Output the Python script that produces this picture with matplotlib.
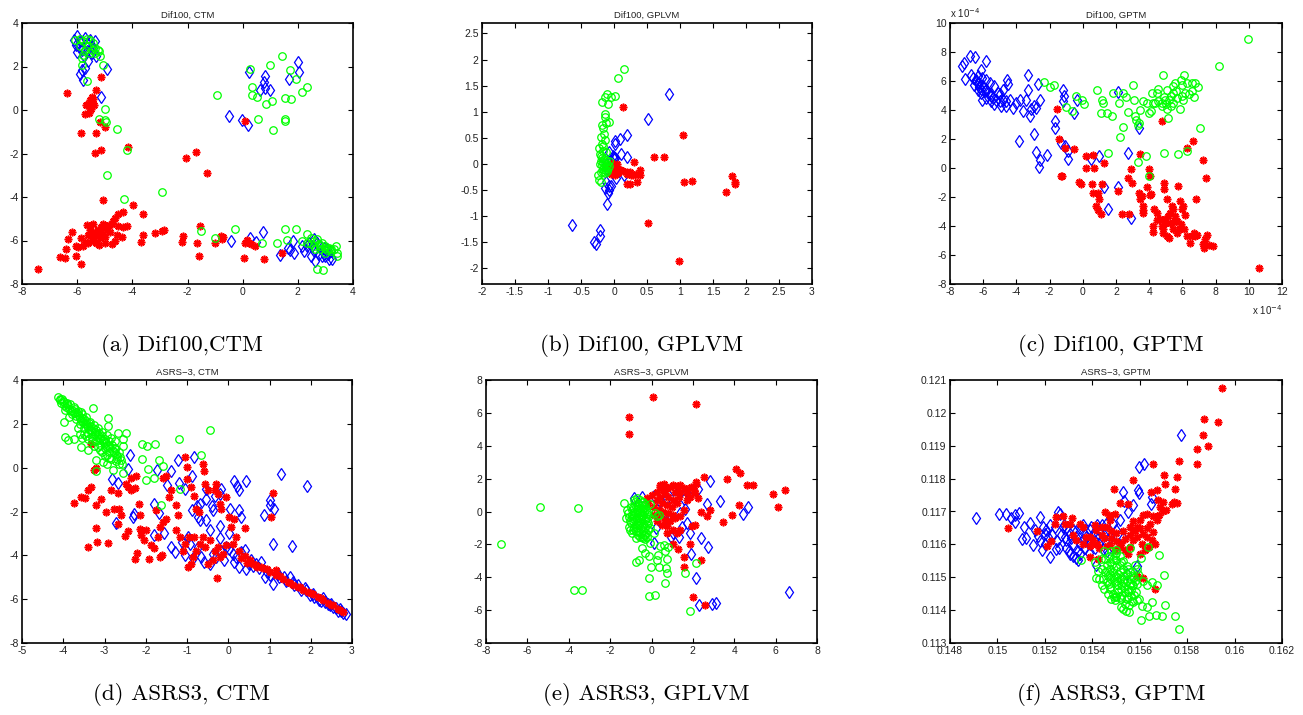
import numpy as np
import matplotlib
matplotlib.use("Agg")
import matplotlib.pyplot as plt
from matplotlib.ticker import FuncFormatter

plt.rcParams['axes.unicode_minus'] = False
plt.rcParams['font.family'] = ['Liberation Sans', 'DejaVu Sans']

# ---------------- data ----------------
# Panel (a) Dif100, CTM
a_red = [(-6.36,0.78),(-5.30,0.93),(-5.12,1.51),(-5.48,0.60),(-5.54,0.45),(-5.62,0.28),(-5.68,0.22),(-5.55,0.10),
         (-5.70,-0.20),(-5.58,-0.14),(-5.42,0.50),(-5.40,0.25),(-5.50,0.05),(-5.87,-1.06),(-5.30,-1.06),(-5.18,-0.57),
         (-5.00,-0.78),(-5.36,-1.97),(-5.12,-1.82),(-4.15,-1.71),(-2.05,-2.20),(-1.70,-1.94),(-1.30,-2.89),(0.10,-0.50),
         (-5.05,-4.14),(-3.99,-4.37),(-3.62,-4.76),(-4.35,-4.68),(-4.52,-4.80),(-4.63,-4.98),(-4.70,-5.10),(-4.75,-5.26),
         (-7.42,-7.32),(-6.63,-6.75),(-6.45,-6.80),(-6.39,-6.40),(-6.33,-5.95),(-6.17,-5.60),(-6.05,-6.25),(-5.96,-6.30),
         (-6.05,-6.70),(-5.87,-7.10),(-5.87,-5.90),(-5.78,-6.25),(-5.72,-6.05),(-5.66,-5.30),(-5.60,-5.75),(-5.54,-5.50),
         (-5.48,-5.90),(-5.42,-5.25),(-5.36,-5.60),(-5.30,-5.80),(-5.24,-5.50),(-5.18,-5.90),(-5.12,-5.60),(-5.05,-5.70),
         (-4.99,-5.85),(-4.93,-5.50),(-5.30,-6.10),(-5.20,-6.20),(-4.99,-6.10),(-4.81,-5.60),(-4.75,-6.15),(-4.57,-5.75),
         (-4.51,-5.35),(-4.39,-5.85),(-4.21,-5.35),(-4.33,-5.40),(-3.62,-5.75),(-3.67,-6.08),(-4.63,-6.00),(-4.85,-5.30),
         (-5.05,-5.25),(-5.60,-6.10),(-5.42,-6.00),(-5.45,-5.70),(-5.25,-5.65),(-5.15,-5.40),(-3.18,-5.64),(-2.93,-5.55),
         (-2.87,-5.50),(-2.21,-6.07),(-2.17,-5.80),(-1.66,-6.12),(-1.54,-5.32),(-1.60,-6.70),(-1.02,-6.10),(-0.80,-5.80),
         (-0.72,-5.85),(-0.76,-5.92),(0.16,-5.98),(0.10,-6.10),(0.22,-6.10),(0.30,-6.18),(0.46,-6.25),(0.05,-6.80),
         (0.76,-6.85),(1.41,-6.56)]
a_blue = [(-6.00,3.41),(-6.12,3.23),(-6.05,3.00),(-5.90,3.15),(-5.72,3.30),(-5.64,3.07),(-5.54,3.23),(-5.48,2.92),
          (-5.36,3.15),(-5.84,2.77),(-6.00,2.65),(-5.66,2.70),(-5.60,2.23),(-5.72,1.93),(-5.84,1.82),(-5.90,1.67),
          (-5.80,1.36),(-4.91,1.88),(-5.48,2.60),(-5.30,2.46),(-5.42,2.85),(-5.95,2.90),(-5.75,2.50),(-5.12,0.58),
          (0.22,1.77),(0.82,1.58),(0.79,1.31),(0.82,1.00),(0.64,0.93),(0.98,0.90),(2.00,2.22),(2.06,1.73),(1.67,1.44),
          (-0.51,-0.29),(-0.02,-0.47),(0.18,-0.70),(-0.41,-6.02),(0.28,-5.87),(0.73,-5.61),(0.50,-6.06),(1.35,-6.65),
          (1.64,-6.33),(1.83,-6.02),(1.85,-6.56),(1.72,-6.45),(2.16,-6.25),(2.22,-6.48),(2.46,-6.71),(2.64,-6.94),
          (2.76,-6.64),(2.88,-6.72),(3.00,-6.70),(3.13,-6.87),(3.25,-6.83),(2.58,-5.95),(2.70,-6.10),(2.82,-6.25),
          (2.94,-6.33),(3.07,-6.40),(3.19,-6.48),(2.52,-6.25),(2.40,-6.10),(2.32,-6.25),(2.60,-6.50),(2.90,-6.55),
          (3.10,-6.60)]
a_green = [(-6.08,3.23),(-5.90,3.26),(-5.78,3.15),(-5.64,3.26),(-5.54,3.20),(-5.42,3.07),(-5.90,2.92),(-5.72,2.77),
           (-5.60,2.92),(-5.48,2.77),(-5.36,2.84),(-5.24,2.77),(-5.20,2.69),(-5.18,2.46),(-5.84,2.08),(-5.66,1.35),
           (-5.05,2.08),(-5.78,2.54),(-5.54,2.61),(-5.36,2.61),(-5.84,2.39),(-4.99,0.05),(-5.20,-0.41),(-4.99,-0.47),
           (-4.96,-0.57),(-4.57,-0.89),(-4.21,-1.85),(-4.93,-3.01),(-4.29,-4.11),(-2.93,-3.78),(-0.92,0.69),(0.25,1.88),
           (0.34,1.06),(0.34,0.70),(0.52,0.58),(0.56,-0.40),(0.86,0.28),(0.98,2.08),(1.07,0.43),(1.10,-0.90),(1.43,2.49),
           (1.52,0.55),(1.55,-0.40),(1.55,-0.52),(1.73,1.85),(1.76,0.50),(1.92,1.44),(2.16,0.81),(2.32,1.04),
           (-1.50,-5.58),(-1.02,-5.87),(-0.27,-5.49),(0.70,-6.13),(1.25,-6.13),(1.55,-5.49),(1.61,-5.98),(1.92,-5.49),
           (2.34,-5.72),(2.16,-6.02),(2.46,-5.87),(2.58,-6.02),(2.70,-5.95),(2.76,-6.18),(2.88,-6.10),(3.00,-6.25),
           (3.13,-6.33),(3.19,-6.40),(3.31,-6.38),(3.43,-6.56),(3.43,-6.71),(3.37,-6.25),(2.70,-7.29),(2.92,-7.35),
           (2.64,-6.40),(2.82,-6.40),(3.00,-6.56),(2.58,-6.25),(2.46,-6.18),(2.34,-6.10),(2.82,-6.25),(3.00,-6.33),
           (3.13,-6.40),(3.05,-6.45),(3.20,-6.50)]

# Panel (b) Dif100, GPLVM
b_red = [(0.14,1.10),(1.05,0.55),(0.61,0.13),(0.75,0.14),(0.30,0.04),(0.40,-0.11),(0.40,-0.21),(0.35,-0.35),
         (0.19,-0.39),(0.24,-0.39),(0.51,-1.13),(0.99,-1.86),(1.06,-0.35),(1.18,-0.32),(1.69,-0.53),(1.79,-0.24),
         (1.84,-0.34),(1.84,-0.38),(-0.02,-0.04),(0.04,-0.09),(0.09,-0.12),(0.14,-0.14),(0.19,-0.15),(0.24,-0.16),
         (0.29,-0.21),(0.34,-0.19),(0.01,-0.02),(-0.04,-0.08),(0.06,-0.18),(0.11,-0.11),(0.00,-0.15),(-0.05,-0.20),
         (0.02,-0.22),(0.25,-0.22),(0.20,-0.20),(0.05,0.00),(-0.03,0.02)]
b_blue = [(0.83,1.34),(0.52,0.86),(0.19,0.55),(0.09,0.47),(0.01,0.44),(0.01,0.39),(0.10,0.20),(0.19,0.14),
          (-0.08,0.23),(-0.01,0.15),(0.00,0.10),(-0.04,0.05),(-0.12,0.00),(-0.10,-0.10),(0.03,-0.27),(0.15,-0.21),
          (-0.12,-0.34),(-0.13,-0.46),(-0.07,-0.43),(-0.09,-0.56),(-0.10,-0.77),(-0.64,-1.17),(-0.21,-1.27),
          (-0.21,-1.38),(-0.31,-1.49),(-0.28,-1.53),(-0.04,-0.42),(-0.08,-0.50),(0.00,0.13),(0.02,0.12)]
b_green = [(0.15,1.82),(0.06,1.64),(-0.10,1.34),(-0.13,1.28),(-0.04,1.29),(0.02,1.31),(-0.18,1.19),(-0.09,1.14),
           (-0.14,0.95),(-0.13,0.89),(-0.07,0.80),(-0.18,0.75),(-0.16,0.68),(-0.12,0.79),(-0.15,0.58),(-0.19,0.51),
           (-0.14,0.46),(-0.18,0.38),(-0.22,0.30),(-0.21,0.20),(-0.12,0.23),(-0.24,-0.21),(-0.22,-0.30),(-0.19,-0.34),
           (-0.20,0.15),(-0.18,0.12),(-0.15,0.10),(-0.12,0.08),(-0.19,0.05),(-0.16,0.03),(-0.13,0.02),(-0.10,0.00),
           (-0.18,-0.02),(-0.15,-0.05),(-0.12,-0.06),(-0.09,-0.08),(-0.17,-0.10),(-0.14,-0.12),(-0.11,-0.14),
           (-0.16,-0.16),(-0.13,-0.18),(-0.20,-0.15),(-0.07,0.05),(-0.08,-0.03),(-0.21,0.00),(-0.17,0.25),(-0.16,0.34)]

# Panel (c) Dif100, GPTM  (values in units of 1e-4)
c_red = [(-1.53,4.08),(-1.45,1.97),(-1.33,-0.55),(-1.05,1.40),(-0.54,1.28),(-0.20,-0.96),(-0.08,-1.12),(0.22,0.83),
         (0.22,0.02),(0.68,0.02),(0.62,0.89),(1.27,0.37),(0.56,-1.12),(0.62,-1.74),(0.89,-1.70),(0.97,-2.16),
         (0.79,-2.61),(0.89,-2.91),(1.09,-3.19),(1.17,-1.08),(2.36,-3.19),(2.15,-1.58),(2.74,-0.67),(2.90,-0.05),
         (2.98,-1.01),(2.78,-3.19),(3.44,0.94),(3.36,-1.74),(3.44,-2.16),(3.58,-1.93),(3.65,-2.61),(3.61,-2.91),
         (3.65,-3.07),(3.85,-1.28),(3.97,-0.09),(4.05,-0.55),(4.09,-1.77),(4.75,3.23),(4.89,-1.06),(4.89,-1.47),
         (4.05,-1.88),(4.31,-2.84),(4.25,-3.99),(4.21,-4.40),(4.45,-3.62),(4.49,-3.07),(4.65,-3.53),(4.75,-3.99),
         (4.85,-4.45),(4.89,-3.88),(4.95,-3.53),(5.06,-2.11),(5.16,-3.30),(5.26,-3.07),(5.36,-2.61),(5.46,-2.84),
         (5.56,-3.30),(5.06,-4.68),(5.18,-4.82),(5.46,-4.22),(5.50,-3.71),(5.66,-3.65),(5.76,-1.24),(5.86,-2.27),
         (5.96,-2.84),(6.06,-2.61),(6.18,-3.26),(6.10,-4.22),(6.26,-4.72),(6.46,-5.14),(6.57,-4.72),(6.67,-4.45),
         (6.77,-4.68),(6.87,-4.59),(6.81,-2.16),(6.63,1.86),(6.30,1.35),(7.27,0.53),(7.43,-0.71),(7.23,-5.25),
         (7.31,-5.55),(7.39,-4.91),(7.51,-4.59),(7.63,-5.30),(7.87,-5.41),(10.63,-6.93),(5.66,-4.45),(5.82,-4.22),
         (5.26,-3.76),(5.92,-3.88),(4.85,-4.22),(-1.25,-0.55)]
c_blue = [(-7.29,7.02),(-7.13,7.25),(-6.77,7.71),(-6.47,7.66),(-7.07,6.17),(-5.86,7.36),(-6.12,6.79),(-6.43,6.10),
          (-6.23,5.87),(-6.03,5.64),(-5.82,5.41),(-5.62,5.07),(-5.42,4.84),(-5.22,4.72),(-5.01,4.61),(-4.91,4.27),
          (-4.61,4.31),(-4.41,4.72),(-4.57,6.10),(-4.51,5.76),(-4.81,5.41),(-4.21,4.15),(-4.01,4.50),(-3.81,4.72),
          (-3.61,3.92),(-3.30,6.44),(-3.30,5.41),(-3.40,4.72),(-3.14,4.04),(-3.16,3.58),(-2.96,4.27),(-2.80,4.15),
          (-2.68,5.80),(-2.56,4.72),(-3.85,1.86),(-2.96,2.32),(-2.80,1.12),(-2.16,0.89),(-2.56,0.53),(-2.64,0.07),
          (-1.21,5.41),(-1.13,5.00),(-1.19,4.61),(-1.65,3.23),(-1.69,2.78),(-1.31,1.70),(-1.09,1.51),(-0.89,1.17),
          (-0.89,0.60),(-0.52,3.76),(-0.34,4.72),(0.48,0.60),(0.97,0.83),(1.27,-1.28),(1.49,-2.84),(2.15,-1.31),
          (2.13,5.23),(2.74,1.01),(2.88,-3.46),(3.40,2.78),(-6.73,6.44),(-6.63,6.21),(-6.43,5.98),(-6.33,5.87),
          (-6.23,5.60),(-6.12,5.46),(-5.92,5.30),(-5.72,5.14),(-5.52,4.95),(-6.53,5.75),(-6.33,5.41),(-6.12,5.18),
          (-5.82,4.84),(-5.52,4.61),(-5.32,4.38),(-5.12,5.18),(-5.32,5.64),(-5.62,5.87),(-5.86,6.10),(-6.06,6.21),
          (-6.33,6.37),(-5.01,5.07),(-4.81,4.72),(-4.61,4.61),(-6.06,4.72)]
c_green = [(9.95,8.92),(8.18,7.06),(-2.34,5.92),(-1.99,5.60),(-1.73,5.69),(-0.99,4.22),(-0.64,3.92),(-0.38,4.95),
           (-0.04,4.68),(0.08,4.43),(0.87,5.37),(1.17,4.72),(1.19,4.45),(1.09,3.81),(1.43,3.76),(1.77,3.58),
           (1.79,5.18),(2.18,4.45),(2.44,5.18),(2.60,4.89),(3.00,5.71),(3.08,4.72),(3.14,3.58),(3.18,3.30),
           (3.36,3.12),(3.34,2.94),(2.44,2.84),(2.24,2.16),(2.74,3.85),(3.44,3.99),(3.65,4.61),(3.85,4.45),
           (4.00,3.81),(4.09,3.92),(4.15,5.14),(4.45,5.18),(4.55,5.46),(4.25,4.45),(4.85,6.44),(4.95,4.72),
           (5.10,4.04),(5.20,4.72),(5.16,3.42),(5.42,5.18),(5.46,5.64),(5.66,4.84),(5.90,6.10),(6.10,6.38),
           (5.96,5.69),(5.86,4.04),(6.16,5.18),(6.26,5.87),(6.57,5.87),(6.77,5.87),(6.91,5.60),(6.71,4.91),
           (7.07,2.78),(5.30,4.95),(4.55,4.61),(4.35,4.50),(4.75,4.27),(5.46,4.50),(6.06,4.72),(5.06,5.37),
           (5.56,5.87),(1.53,1.01),(3.34,0.41),(3.79,0.83),(4.01,-0.55),(4.91,1.05),(5.76,0.94),(6.30,1.15),
           (4.75,4.45),(5.00,4.38),(5.30,4.31),(5.60,5.30),(6.40,5.10),(6.55,5.30),(6.00,5.00),(4.90,4.90)]

# Panel (d) ASRS-3, CTM
d_red = [(-3.75,-1.62),(-3.56,-1.35),(-3.48,-1.38),(-3.40,-1.01),(-3.32,-0.89),(-3.20,0.00),(-3.25,-0.12),(-3.32,1.09),
         (-3.40,-3.62),(-3.18,-3.40),(-3.20,-2.74),(-3.20,-1.72),(-3.08,-1.42),(-2.92,-3.43),(-2.96,-2.03),(-2.84,-1.01),
         (-2.67,-1.16),(-2.76,-1.88),(-2.64,-1.88),(-2.59,-2.18),(-2.67,-2.56),(-2.51,-3.14),(-2.43,-2.89),(-2.49,-0.74),
         (-2.43,-0.89),(-2.35,-1.04),(-2.35,-0.46),(-2.23,-0.40),(-2.25,-0.95),(-2.17,-1.68),(-2.15,-2.18),(-2.15,-2.79),
         (-2.27,-4.16),(-2.21,-3.90),(-2.11,-3.09),(-2.05,-3.32),(-2.00,-2.86),(-1.91,-4.16),(-1.87,-3.55),(-1.81,-3.65),
         (-1.70,-3.17),(-1.66,-4.08),(-1.60,-4.00),(-1.75,-1.95),(-1.65,-2.71),(-1.58,-2.48),(-1.50,-2.33),(-1.44,-1.34),
         (-1.38,-1.04),(-1.50,-0.36),(-1.58,-0.46),(-1.26,-1.72),(-1.22,-2.18),(-1.26,-2.86),(-1.16,-3.17),(-1.10,-3.78),
         (-1.06,0.48),(-0.99,0.02),(-1.01,-0.51),(-0.90,-0.89),(-0.82,-1.27),(-0.78,-1.88),(-0.70,-2.03),(-0.61,0.17),
         (-0.59,-0.13),(-0.57,-0.74),(-0.49,-1.04),(-0.29,-0.74),(-0.33,-1.04),(-0.25,-1.22),(-0.21,-1.65),(-0.17,-1.88),
         (-0.05,-1.35),(0.03,-2.26),(0.15,-2.33),(0.07,-2.71),(0.40,-2.74),(0.19,-3.17),(-0.98,-4.54),(-0.90,-4.38),
         (-0.86,-4.08),(-0.78,-3.78),(-0.69,-3.47),(-0.57,-3.62),(-0.45,-3.32),(-0.33,-3.78),(-0.25,-3.62),(-0.21,-4.08),
         (-0.13,-3.93),(-0.27,-5.02),(-0.61,-3.17),(-0.82,-3.17),(-0.94,-3.17),(-1.06,-3.47),(-0.49,-4.38),(-0.37,-4.23),
         (-0.05,-3.55),(0.11,-3.47),(0.27,-3.78),(0.40,-4.01),(0.52,-4.23),(0.68,-4.46),(0.80,-4.54),(0.93,-4.61),
         (1.08,-1.14),(1.04,-2.23),(1.16,-4.69),(1.16,-4.92),(1.33,-5.07),(1.45,-5.22),(1.57,-5.37),(1.69,-5.46),
         (1.81,-5.57),(1.93,-5.68),(2.06,-5.78),(2.17,-5.90),(2.30,-6.05),(2.42,-6.18),(2.54,-6.28),(2.66,-6.43),
         (2.78,-6.59),(0.60,-4.38),(0.30,-4.10),(1.00,-4.75),(1.25,-4.95),(1.50,-5.25),(1.75,-5.45),(2.00,-5.70),
         (2.25,-5.95),(2.50,-6.25),(2.70,-6.50),(0.70,-4.55),(0.85,-4.60),(0.45,-4.35)]
d_blue = [(-2.37,0.60),(-2.43,-0.05),(-2.81,-0.51),(-2.67,-0.71),(-2.73,-2.53),(-2.28,-2.10),(-2.31,-2.26),(-1.81,-1.68),
          (-1.68,-2.08),(-1.73,-0.10),(-1.38,-0.13),(-1.48,-0.79),(-1.21,0.36),(-0.82,0.48),(-0.87,-0.40),(-1.20,-0.71),
          (-1.06,-0.96),(-0.88,-1.92),(-0.75,-1.77),(-0.69,-1.65),(-0.53,-0.96),(-0.40,-1.77),(-0.37,-1.95),(-0.33,-1.27),
          (-0.53,-1.42),(-0.21,-1.22),(-0.17,-0.96),(-0.69,-2.41),(-0.73,-2.26),(-0.53,-2.38),(-0.44,-2.84),(-0.21,-2.68),
          (-0.21,-3.21),(0.03,-2.98),(0.05,-1.88),(0.15,-0.59),(0.21,-0.84),(0.27,-1.04),(0.44,-0.59),(0.26,-1.95),
          (0.31,-2.23),(1.28,-0.31),(1.92,-0.82),(0.86,-2.18),(1.02,-1.47),(1.00,-1.72),(1.12,-1.88),(1.08,-3.47),
          (1.54,-3.59),(-1.79,-3.06),(-1.56,-2.98),(-1.38,-3.62),(-1.30,-3.85),(-1.12,-3.40),(-1.06,-4.00),(-0.98,-3.17),
          (-0.92,-3.50),(-0.73,-3.62),(-0.65,-4.08),(-0.45,-4.38),(-0.37,-3.93),(-0.29,-4.08),(-0.17,-3.78),(-0.05,-3.62),
          (0.03,-3.70),(0.11,-3.93),(0.19,-4.08),(0.31,-3.85),(0.40,-3.77),(0.27,-4.54),(0.44,-4.61),(0.56,-4.23),
          (0.68,-4.38),(0.80,-4.31),(0.88,-4.99),(1.00,-4.92),(1.08,-5.30),(1.24,-4.99),(1.41,-5.15),(1.49,-4.99),
          (1.57,-5.22),(1.69,-5.37),(1.77,-5.60),(1.89,-5.60),(1.97,-5.83),(2.09,-5.90),(2.21,-6.02),(2.34,-6.13),
          (2.46,-6.28),(2.54,-6.36),(2.66,-6.52),(2.78,-6.64),(2.86,-6.69),(2.74,-6.52),(2.62,-6.40),(2.42,-6.20),
          (2.25,-6.08),(-0.85,-4.10),(-0.60,-4.30),(1.20,-4.85),(1.35,-5.00),(1.60,-5.35),(1.85,-5.50),(2.05,-5.75),
          (2.30,-5.95),(2.50,-6.20),(2.70,-6.45),(0.60,-4.50),(0.75,-4.60),(0.95,-4.75),(0.15,-4.30),(-0.10,-4.20),
          (0.50,-4.40)]
d_green = [(-4.13,3.22),(-4.09,3.14),(-4.05,2.94),(-3.97,2.86),(-3.93,2.79),(-3.85,2.68),(-3.81,2.57),(-3.73,2.48),
           (-3.68,2.38),(-3.60,2.27),(-3.56,2.18),(-3.52,2.08),(-3.44,1.97),(-3.40,1.85),(-3.32,1.73),(-3.24,1.62),
           (-3.15,1.47),(-3.12,1.36),(-3.04,1.24),(-2.97,1.12),(-2.88,0.97),(-2.80,0.78),(-2.72,0.63),(-2.63,0.48),
           (-2.57,0.18),(-4.00,3.05),(-3.90,2.95),(-3.75,2.75),(-3.65,2.60),(-3.55,2.45),(-3.45,2.30),(-3.35,2.10),
           (-3.25,1.95),(-3.15,1.80),(-3.05,1.65),(-2.95,1.50),(-2.85,1.35),(-2.75,1.20),(-3.95,2.65),(-3.80,2.45),
           (-3.70,2.20),(-3.60,2.00),(-3.50,1.80),(-3.40,1.60),(-3.30,1.40),(-3.20,1.20),(-3.10,1.05),(-3.00,0.90),
           (-2.90,0.70),(-3.60,1.55),(-3.40,1.30),(-3.25,1.00),(-3.10,0.80),(-3.00,0.55),(-2.90,0.45),(-2.70,0.40),
           (-2.60,0.35),(-3.28,2.73),(-2.92,2.27),(-2.92,1.88),(-3.97,2.08),(-3.89,1.27),(-2.47,1.57),(-2.67,1.57),
           (-2.54,1.31),(-2.08,1.06),(-1.97,1.01),(-1.78,1.06),(-1.20,1.31),(-0.44,1.72),(-0.65,0.58),(-2.08,0.40),
           (-1.68,0.36),(-1.58,0.07),(-1.95,-0.08),(-1.99,-0.55),(-1.81,-0.48),(-2.55,-0.25),(-3.20,-0.13),(-2.80,-0.10),
           (-1.62,-1.70),(-1.18,-0.96),(-3.56,0.94),(-3.40,0.80),(-3.20,0.35),(-3.04,0.25),(-2.95,0.18),(-2.84,0.40),
           (-2.72,0.32),(-2.64,0.18),(-3.75,1.30),(-3.55,1.35),(-3.95,1.40),(-2.55,1.00),(-2.75,0.85),
           (-4.08,3.08),(-4.02,3.12),(-3.98,3.00),(-3.92,2.90),(-3.88,2.82),(-3.84,2.90),(-3.78,2.62),(-3.72,2.68),
           (-3.70,2.52),(-3.64,2.44),(-3.62,2.35),(-3.58,2.52),(-3.54,2.28),(-3.50,2.20),(-3.48,2.02),(-3.46,2.12),
           (-3.42,1.90),(-3.38,2.02),(-3.36,1.75),(-3.34,1.92),(-3.30,1.68),(-3.28,1.80),(-3.22,1.55),(-3.20,1.70),
           (-3.18,1.42),(-3.14,1.58),(-3.10,1.30),(-3.06,1.45),(-3.02,1.15),(-2.98,1.30),(-2.94,1.02),(-2.90,1.20),
           (-2.86,0.90),(-2.82,1.05),(-2.78,0.70),(-2.74,0.88),(-2.70,0.55),(-2.66,0.72),(-3.50,1.55),(-3.30,1.20),
           (-3.15,0.95),(-3.05,0.70),(-2.95,0.60),(-3.65,1.80),(-3.85,2.30),(-3.45,1.45)]

# Panel (e) ASRS-3, GPLVM
e_red = [(0.08,6.97),(2.16,6.56),(-1.10,5.76),(-1.10,4.70),(4.10,2.56),(4.29,2.36),(2.55,2.11),(2.16,1.81),(2.16,1.67),
         (3.65,1.95),(4.61,1.59),(4.90,1.59),(6.47,1.30),(5.85,1.04),(6.10,0.25),(4.21,0.38),(3.89,-0.21),(3.45,-0.65),
         (2.84,0.09),(2.68,-0.25),(2.39,-0.05),(2.11,-0.82),(1.98,-0.88),(1.84,-1.99),(1.06,-1.99),(1.26,-2.30),
         (1.58,-2.74),(1.55,-3.39),(2.40,-2.98),(2.03,-5.23),(2.60,-5.67),(2.27,0.80),(0.42,1.50),(0.58,1.30),
         (0.74,1.40),(0.90,1.50),(1.06,1.60),(1.23,1.54),(1.39,1.60),(1.55,1.46),(1.71,1.34),(0.66,1.10),(0.82,0.90),
         (1.06,0.70),(1.31,0.90),(0.42,0.90),(0.26,0.70),(0.50,0.50),(0.74,0.40),(0.98,0.30),(1.23,0.50),(0.10,0.30),
         (0.34,0.10),(0.58,0.00),(0.82,-0.10),(1.06,-0.20),(0.42,-0.30),(0.66,-0.50),(0.90,-0.60),(1.15,-0.40),
         (1.39,-0.30),(1.55,0.10),(1.71,0.70),(1.87,0.90),(0.10,-0.20),(0.26,-0.60),(0.50,-0.80),(0.74,-0.90),
         (1.06,-1.10),(1.39,-1.10),(1.23,-1.32),(-0.15,0.50),(-0.23,0.80),(0.02,1.00),(0.26,1.20),(0.42,1.60),
         (0.61,1.70),(1.71,1.10),(2.06,1.30),(1.90,1.50),(2.10,1.10),(1.39,1.20),(1.15,1.20),(0.77,-1.33)]
e_blue = [(2.81,1.87),(2.23,1.35),(2.00,1.31),(2.68,0.46),(3.29,0.64),(4.65,0.30),(4.42,-0.15),(1.84,1.06),(1.55,0.76),
          (1.60,0.16),(1.39,-0.11),(1.31,-1.53),(1.06,-1.33),(0.94,-1.53),(1.87,-1.33),(1.71,-0.72),(1.47,-0.92),
          (0.77,-0.62),(0.74,-0.42),(0.10,-1.93),(0.23,-1.02),(2.39,-1.59),(2.71,-2.19),(1.90,-2.60),(2.13,-4.02),
          (2.31,-5.67),(2.92,-5.61),(3.13,-5.57),(6.63,-4.89),(-0.87,0.80),(-0.47,0.90),(0.10,0.94),(0.42,0.60),
          (0.74,0.80),(1.06,1.31),(1.39,1.31)]
e_green = [(-7.29,-1.99),(-5.39,0.25),(-3.56,0.19),(-3.73,-4.76),(-3.34,-4.78),(-1.32,0.50),(-1.19,0.09),(-1.23,-0.41),
           (-1.11,-0.92),(-1.03,-1.12),(-0.92,-1.33),(-0.74,-1.63),(-0.47,-1.53),(-0.31,-1.67),(-0.06,-1.93),
           (0.10,-1.33),(-0.06,-0.99),(-0.15,-0.72),(-0.47,-2.25),(-0.31,-2.51),(-0.74,-3.09),(-0.60,-2.98),
           (-0.13,-2.68),(0.31,-2.64),(0.26,-2.94),(-0.03,-3.39),(0.34,-3.35),(0.61,-2.02),(0.42,-2.08),(0.66,-2.43),
           (0.74,-2.88),(0.69,-3.41),(0.77,-3.75),(0.82,-2.13),(0.66,-4.36),(-0.10,-4.06),(-0.10,-5.13),(0.18,-5.07),
           (1.63,-3.75),(2.13,-3.15),(1.87,-6.04),(-0.06,0.43),(0.15,-0.11),(0.29,-0.27),(0.37,-0.21),(-0.87,0.70),
           (-0.71,0.80),(-0.55,0.70),(-0.39,0.60),(-0.79,0.40),(-0.63,0.30),(-0.47,0.40),(-0.31,0.30),(-0.95,0.09),
           (-0.71,0.00),(-0.47,0.09),(-0.23,0.00),(-0.87,-0.21),(-0.63,-0.31),(-0.39,-0.21),(-0.15,-0.31),(-0.79,-0.51),
           (-0.55,-0.62),(-0.31,-0.51),(-0.71,-0.82),(-0.47,-0.92),(-0.23,-0.82),(-0.87,-1.02),(-0.63,-1.22),
           (-0.39,-1.12),(-0.55,-1.53),(-0.31,-1.42),(-0.15,-1.12),(-1.00,-0.72),(-1.07,-0.31),(-0.95,-0.41),
           (-0.55,0.00),(-0.60,-0.40),(-0.80,0.60),(-0.64,0.50),(-0.48,0.55),(-0.32,0.45),(-0.90,0.30),(-0.56,0.20),
           (-0.40,0.15),(-0.25,0.15),(-0.85,-0.05),(-0.60,-0.10),(-0.35,-0.05),(-0.20,-0.15),(-0.95,-0.20),
           (-0.75,-0.40),(-0.50,-0.45),(-0.25,-0.40),(-0.90,-0.55),(-0.65,-0.70),(-0.40,-0.75),(-0.20,-0.60),
           (-0.80,-0.90),(-0.55,-1.00),(-0.30,-0.95),(-0.75,-1.20),(-0.50,-1.30),(-0.25,-1.30),(-0.65,-1.45),
           (-0.40,-1.60),(-0.20,-1.55),(-0.90,-1.15),(-1.05,-0.55),(-1.15,-0.10),(-1.00,0.30),(-0.70,0.15),
           (-0.45,-0.30),(-0.60,-0.85),(-0.35,-1.40)]

# Panel (f) ASRS-3, GPTM (values in units of 1e-3)
f_red = [(159.49,120.77),(158.71,119.82),(159.32,119.72),(158.66,119.32),(158.90,118.99),(158.40,118.89),(158.40,118.43),
         (156.54,118.43),(157.67,118.55),(155.70,117.97),(154.91,117.67),(157.02,118.10),(157.08,117.83),(157.56,118.05),
         (156.74,117.64),(156.46,117.58),(157.49,117.68),(157.45,117.29),(157.56,117.26),(157.35,117.24),(157.11,117.04),
         (156.97,117.01),(156.79,117.35),(156.86,117.15),(156.57,116.85),(156.71,116.75),(156.54,116.39),(156.43,116.63),
         (156.32,116.93),(156.15,116.88),(156.01,116.73),(155.87,116.53),(155.73,116.43),(155.59,116.53),(156.15,116.33),
         (156.29,116.22),(156.50,116.12),(156.64,116.02),(156.40,115.92),(156.08,116.02),(155.87,116.22),(155.73,116.12),
         (155.59,115.92),(155.38,115.82),(155.16,115.92),(154.95,116.93),(154.74,116.73),(154.60,116.53),(154.39,116.53),
         (154.17,116.43),(154.03,116.12),(153.89,116.22),(153.75,116.22),(153.61,116.53),(153.47,116.63),(153.33,116.12),
         (153.18,116.27),(153.04,116.63),(152.83,116.63),(152.76,116.85),(152.48,116.83),(152.44,116.61),(152.26,116.10),
         (152.09,115.95),(150.45,116.50),(151.67,116.42),(153.15,116.81),(154.53,116.98),(154.71,116.88),(155.16,117.26),
         (155.52,117.24),(156.15,114.97),(156.64,114.65),(155.87,115.05),(154.22,115.56),(153.89,115.61),(154.95,115.82),
         (154.74,115.97),(156.01,115.71),(156.22,115.82),(154.00,116.00),(154.30,115.90),(154.50,116.20),(155.00,116.10),
         (155.30,116.40),(153.60,116.00),(154.80,116.40),(154.20,116.00),(154.40,116.30),(154.60,115.95),(154.80,116.20),
         (155.00,116.35),(155.20,116.05),(155.40,116.15),(155.60,116.30),(155.80,116.40),(156.00,116.50),(154.10,116.60),
         (153.90,115.95),(155.50,115.70),(155.70,116.70),(156.30,116.50),(156.80,116.90),(157.00,117.30)]
f_blue = [(149.10,116.81),(150.06,116.91),(150.37,116.93),(150.58,116.81),(150.76,116.88),(150.76,116.68),(150.89,116.96),
          (151.12,116.53),(151.03,116.17),(151.21,116.20),(151.36,116.65),(151.50,115.99),(151.71,116.24),(151.81,116.83),
          (151.88,115.84),(151.92,116.53),(151.99,116.33),(152.06,116.43),(152.13,116.22),(152.20,115.63),(152.48,115.87),
          (152.55,116.98),(152.62,116.93),(152.41,116.53),(152.76,116.53),(152.83,116.22),(152.90,116.12),(153.04,116.33),
          (153.18,116.43),(153.33,116.22),(153.40,115.51),(153.47,115.71),(153.05,115.71),(153.61,116.12),(153.75,116.22),
          (153.89,116.02),(153.96,116.53),(154.03,116.33),(154.17,116.22),(154.31,116.43),(154.38,116.12),(154.45,115.87),
          (154.59,116.63),(154.74,116.22),(154.88,116.63),(155.02,116.43),(155.16,116.73),(155.30,117.59),(155.35,117.32),
          (155.52,116.98),(155.70,117.19),(155.94,117.64),(155.98,117.56),(155.98,118.34),(156.19,118.44),(156.46,117.22),
          (156.50,117.44),(157.74,119.32),(155.87,115.33),(155.47,115.10),(154.17,115.36),(152.90,116.50),(153.20,116.00),
          (153.50,116.50),(153.70,115.90),(154.10,115.90),(154.60,115.80),(152.60,115.90),(152.30,116.30),(153.00,115.80),
          (153.30,115.60),(153.85,115.75),(154.40,116.60),(154.90,116.00),(155.30,116.20),(152.50,116.10),(152.70,116.30),
          (152.90,115.90),(153.10,116.20),(153.30,116.40),(153.50,116.00),(153.70,116.30),(153.90,116.45),(154.10,116.10),
          (154.30,116.00),(153.40,115.80),(152.80,116.60),(153.60,116.60),(154.20,116.60),(154.50,116.30),(151.60,116.45),
          (151.80,116.10),(152.00,116.00),(152.20,116.60),(153.20,115.65),(153.80,116.05)]
f_green = [(156.37,115.92),(156.81,115.69),(157.02,115.07),(157.07,114.16),(157.49,113.83),(157.67,113.43),(156.94,113.83),
           (156.67,113.86),(156.40,113.83),(156.05,113.71),(156.29,114.11),(156.08,114.12),(156.50,114.26),(156.71,114.75),
           (156.50,114.85),(156.32,114.77),(156.15,114.90),(156.05,115.58),(155.80,115.36),(155.94,115.10),(155.98,114.34),
           (155.87,114.32),(155.66,114.29),(155.44,113.97),(155.30,114.04),(155.16,114.39),(155.02,114.41),(154.91,114.39),
           (154.74,114.69),(154.39,114.76),(154.17,114.97),(154.10,115.46),(154.50,115.79),(155.02,115.83),(155.59,115.89),
           (153.54,115.51),(154.60,115.36),(154.74,115.26),(154.88,115.15),(155.02,115.05),(155.16,114.95),(155.30,114.85),
           (154.67,115.05),(154.81,114.95),(154.95,114.85),(155.09,114.75),(155.23,114.65),(155.38,114.54),(155.52,114.64),
           (155.66,114.75),(155.59,114.95),(155.45,115.10),(155.30,115.26),(155.16,115.36),(155.02,115.51),(154.88,115.56),
           (154.74,115.46),(154.53,115.15),(154.60,114.85),(154.74,114.64),(154.88,114.49),(155.02,114.44),(155.23,114.34),
           (155.45,114.34),(155.63,114.44),(155.73,114.75),(155.80,114.90),(155.66,115.05),(155.52,115.26),(155.23,115.46),
           (154.95,115.67),(154.46,114.95),(154.41,115.26),(154.55,115.55),(154.70,115.65),(154.85,115.40),(155.00,115.30),
           (155.15,115.20),(155.30,115.05),(155.45,114.90),(155.60,114.80),(154.60,115.20),(154.75,115.10),(154.90,115.00),
           (155.05,114.90),(155.20,114.80),(155.35,114.70),(155.50,114.55),(155.65,114.60),(154.50,114.65),(154.65,114.50),
           (154.80,114.35),(154.95,114.30),(155.10,114.55),(155.25,114.45),(155.40,114.20),(155.55,114.15),(155.70,114.25),
           (155.85,114.55),(155.90,114.80),(155.75,115.00),(155.60,115.15),(155.45,115.35),(155.30,115.50),(155.15,115.65),
           (155.00,115.75),(154.80,115.80),(154.35,115.55),(154.25,115.20),(154.30,114.95),(154.70,114.80),(155.10,115.10),
           (155.35,114.95),(155.50,114.40),(155.20,114.10),(155.55,113.95),(155.75,114.45),(155.90,115.25)]

titles = ["Dif100, CTM", "Dif100, GPLVM", "Dif100, GPTM", "ASRS\u22123, CTM", "ASRS\u22123, GPLVM", "ASRS\u22123, GPTM"]
captions = ["(a) Dif100,CTM", "(b) Dif100, GPLVM", "(c) Dif100, GPTM",
            "(d) ASRS3, CTM", "(e) ASRS3, GPLVM", "(f) ASRS3, GPTM"]

# ---------------- figure ----------------
W, H = 1303, 715
fig = plt.figure(figsize=(W / 100, H / 100), dpi=100)

def box(l, r, t, b):
    return [l / W, 1 - b / H, (r - l) / W, (b - t) / H]

rects = [box(22, 353, 23, 284), box(482, 812, 23, 284), box(950, 1282, 23, 284),
         box(22, 352, 380, 643), box(486, 817, 380, 643), box(950, 1282, 380, 643)]

panels = [
    (a_blue, a_red, a_green, 1.0, (-8, 4), (-8, 4), np.arange(-8, 5, 2), np.arange(-8, 5, 2)),
    (b_blue, b_red, b_green, 1.0, (-2, 3), (-2.3, 2.7), np.arange(-2, 3.01, 0.5), np.arange(-2, 2.51, 0.5)),
    (c_blue, c_red, c_green, 1.0, (-8, 12), (-8, 10), np.arange(-8, 13, 2), np.arange(-8, 11, 2)),
    (d_blue, d_red, d_green, 1.0, (-5, 3), (-8, 4), np.arange(-5, 4, 1), np.arange(-8, 5, 2)),
    (e_blue, e_red, e_green, 1.0, (-8, 8), (-8, 8), np.arange(-8, 9, 2), np.arange(-8, 9, 2)),
    (f_blue, f_red, f_green, 1e-3, (0.148, 0.162), (0.113, 0.121),
     np.arange(0.148, 0.1621, 0.002), np.arange(0.113, 0.1211, 0.001)),
]

fmt = FuncFormatter(lambda v, p: ('%g' % round(v, 6)))
asterisk = (8, 2, 0)

for i, (blue, red, green, sc, xl, yl, xt, yt) in enumerate(panels):
    ax = fig.add_axes(rects[i])
    bx, by = np.array(blue).T * sc
    rx, ry = np.array(red).T * sc
    gx, gy = np.array(green).T * sc
    ax.plot(bx, by, linestyle='none', marker='d', ms=6.2, mfc='none', mec=(0, 0, 1), mew=0.9)
    ax.plot(rx, ry, linestyle='none', marker=asterisk, ms=5.5, mfc=(1, 0, 0), mec=(1, 0, 0), mew=1.2)
    ax.plot(gx, gy, linestyle='none', marker='o', ms=5.4, mfc='none', mec=(0, 1, 0), mew=0.9)
    ax.set_xlim(*xl)
    ax.set_ylim(*yl)
    ax.set_xticks(xt)
    ax.set_yticks(yt)
    ax.xaxis.set_major_formatter(fmt)
    ax.yaxis.set_major_formatter(fmt)
    ax.tick_params(direction='in', top=True, right=True, length=3.5, width=0.8,
                   labelsize=7.5, pad=2.5, colors='black', labelcolor='#222222')
    for s in ax.spines.values():
        s.set_linewidth(1.2)
    ax.set_title(titles[i], fontsize=6.8, pad=4, color='#222222')
    cx = (rects[i][0] + rects[i][2] / 2) * W
    cy = 346 if i < 3 else 695
    fig.text(cx / W - 0.004, 1 - cy / H, captions[i], family='cmr10', fontsize=16.5,
             ha='center', va='center', color='black')
    if i == 2:
        ax.text(0.0, 1.012, 'x 10$^{-4}$', transform=ax.transAxes, ha='left', va='bottom',
                fontsize=7, color='#222222')
        ax.text(1.0, -0.075, 'x 10$^{-4}$', transform=ax.transAxes, ha='right', va='top',
                fontsize=7, color='#222222')

fig.savefig('out.png', dpi=100)
